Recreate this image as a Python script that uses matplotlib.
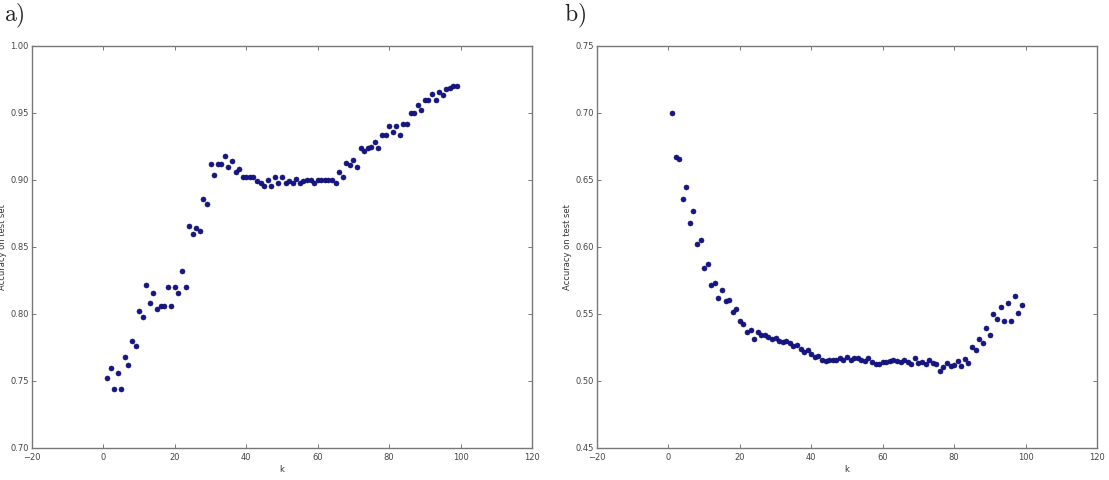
import matplotlib
matplotlib.use('Agg')
import matplotlib.pyplot as plt
import numpy as np

plt.rcParams['mathtext.fontset'] = 'cm'

# k values (1..99) shared by both panels
k = np.arange(1, 100)

# a) accuracy on test set
acc_a = [
    0.752, 0.760, 0.744, 0.756, 0.744, 0.768, 0.762, 0.780, 0.776, 0.802,
    0.798, 0.822, 0.808, 0.816, 0.804, 0.806, 0.806, 0.820, 0.806, 0.820,
    0.816, 0.832, 0.820, 0.866, 0.860, 0.864, 0.862, 0.886, 0.882, 0.912,
    0.904, 0.912, 0.912, 0.918, 0.910, 0.914, 0.906, 0.908, 0.902, 0.902,
    0.902, 0.902, 0.899, 0.8975, 0.8955, 0.900, 0.8955, 0.9025, 0.898, 0.9025,
    0.898, 0.8995, 0.898, 0.901, 0.898, 0.8995, 0.900, 0.900, 0.898, 0.900,
    0.900, 0.900, 0.900, 0.900, 0.8975, 0.906, 0.902, 0.9125, 0.911, 0.915,
    0.910, 0.924, 0.922, 0.9236, 0.9244, 0.928, 0.924, 0.9336, 0.9336, 0.940,
    0.936, 0.940, 0.9336, 0.942, 0.942, 0.950, 0.950, 0.9557, 0.952, 0.960,
    0.960, 0.964, 0.960, 0.9657, 0.9637, 0.9677, 0.969, 0.970, 0.970,
]

# b) accuracy on test set
acc_b = [
    0.700, 0.667, 0.666, 0.636, 0.645, 0.618, 0.627, 0.602, 0.605, 0.584,
    0.587, 0.5714, 0.5734, 0.5622, 0.568, 0.5595, 0.5602, 0.5513, 0.554, 0.5448,
    0.5423, 0.5368, 0.5381, 0.5316, 0.5363, 0.534, 0.534, 0.533, 0.531, 0.532,
    0.530, 0.529, 0.530, 0.528, 0.526, 0.527, 0.524, 0.522, 0.523, 0.520,
    0.518, 0.519, 0.516, 0.515, 0.516, 0.516, 0.516, 0.517, 0.516, 0.518,
    0.516, 0.517, 0.517, 0.516, 0.515, 0.517, 0.514, 0.513, 0.513, 0.514,
    0.514, 0.515, 0.516, 0.515, 0.514, 0.516, 0.5144, 0.5127, 0.5169, 0.5137,
    0.5144, 0.5127, 0.5157, 0.5137, 0.5127, 0.5077, 0.5102, 0.5132, 0.5112, 0.5117,
    0.5152, 0.5112, 0.5164, 0.5132, 0.5256, 0.5231, 0.5311, 0.5281, 0.5393, 0.5343,
    0.550, 0.546, 0.555, 0.545, 0.558, 0.545, 0.5634, 0.5505, 0.5567,
]

x_ticks = [-20, 0, 20, 40, 60, 80, 100, 120]
y_ticks_a = [0.70, 0.75, 0.80, 0.85, 0.90, 0.95, 1.00]
y_ticks_b = [0.45, 0.50, 0.55, 0.60, 0.65, 0.70, 0.75]

fig = plt.figure(figsize=(11.09, 4.8), dpi=100)
ax_a = fig.add_axes([0.0289, 0.0667, 0.4508, 0.8375])
ax_b = fig.add_axes([0.5383, 0.0667, 0.4509, 0.8375])

panels = [(ax_a, acc_a, y_ticks_a, 'a)', 0.004),
          (ax_b, acc_b, y_ticks_b, 'b)', 0.509)]

for ax, acc, yt, tag, tx in panels:
    ax.scatter(k, acc, s=13, color='#16168a', edgecolors='#0c0c66',
               linewidths=0.4, zorder=3)
    ax.set_xlim(-20, 120)
    ax.set_ylim(yt[0], yt[-1])
    ax.set_xticks(x_ticks)
    ax.set_yticks(yt)
    ax.set_yticklabels([f'{v:.2f}' for v in yt])
    ax.tick_params(direction='in', length=3, width=0.5, labelsize=6,
                   colors='#444444', top=True, right=True)
    ax.tick_params(axis='x', pad=3.5)
    ax.tick_params(axis='y', pad=2.5)
    for sp in ax.spines.values():
        sp.set_color('#777777')
        sp.set_linewidth(1.0)
    ax.set_xlabel('k', fontsize=6, color='#333333', labelpad=2)
    ax.set_ylabel('Accuracy on test set', fontsize=6, color='#333333',
                  labelpad=2)
    fig.text(tx, 0.966, r'$\mathrm{%s}$' % tag, fontsize=17, color='#222222',
             va='center', ha='left')

fig.savefig('out.png', dpi=100)
